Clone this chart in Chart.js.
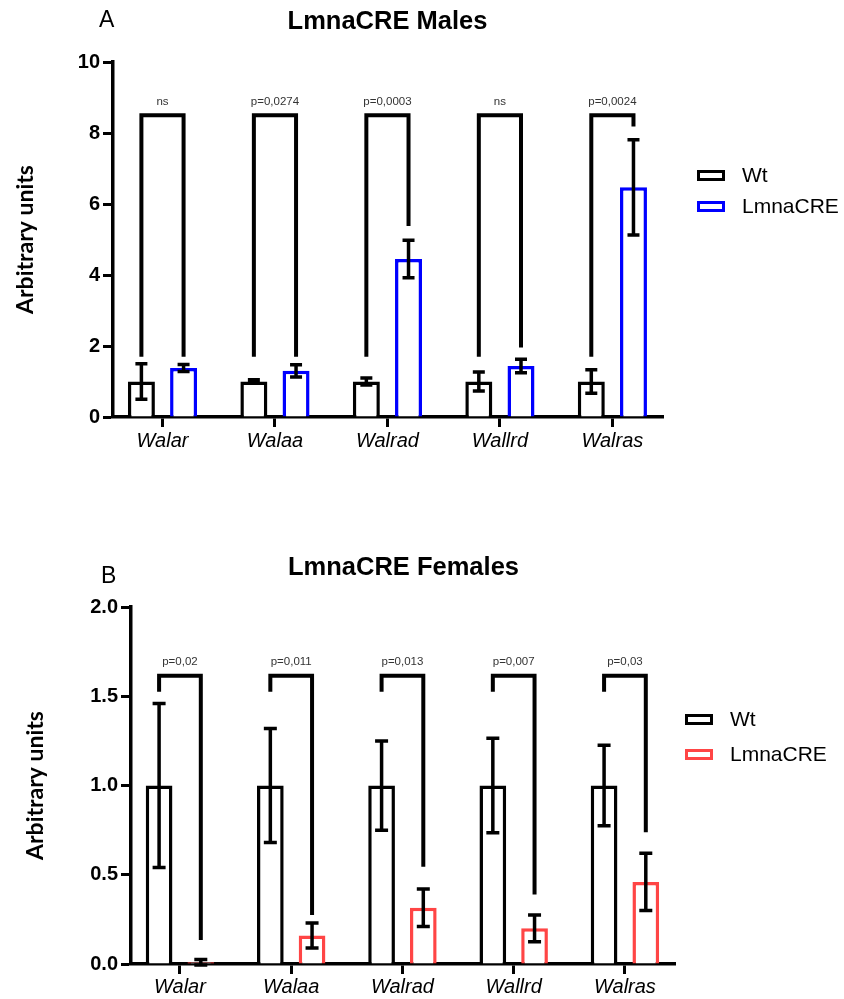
<!DOCTYPE html>
<html><head><meta charset="utf-8">
<script src="https://cdn.jsdelivr.net/npm/chart.js@4/dist/chart.umd.min.js"></script>
<style>
html,body{margin:0;padding:0;background:#fff;}
body{width:844px;height:999px;position:relative;overflow:hidden;font-family:'Liberation Sans',Arial,sans-serif;}
canvas{position:absolute;left:0;}
.t{position:absolute;white-space:nowrap;color:#000;}
.sw{position:absolute;width:28px;height:11px;box-sizing:border-box;border:3.5px solid #000;background:#fff;}
</style></head><body>
<canvas id="c1" width="844" height="480" style="top:0"></canvas>
<canvas id="c2" width="844" height="519" style="top:480px"></canvas>

<div class="t" style="left:99px;top:5px;font-size:23px;line-height:28px;">A</div>
<div class="t" style="left:0;width:775px;text-align:center;top:4.5px;font-size:25.5px;line-height:30px;font-weight:bold;">LmnaCRE Males</div>
<div class="sw" style="left:697px;top:169.5px;border-color:#000;"></div>
<div class="t" style="left:742px;top:162px;font-size:21px;line-height:26px;">Wt</div>
<div class="sw" style="left:697px;top:200.5px;border-color:#0000ff;"></div>
<div class="t" style="left:742px;top:193px;font-size:21px;line-height:26px;">LmnaCRE</div>

<div class="t" style="left:101px;top:560.5px;font-size:23px;line-height:28px;">B</div>
<div class="t" style="left:0;width:807px;text-align:center;top:550.5px;font-size:25.5px;line-height:30px;font-weight:bold;">LmnaCRE Females</div>
<div class="sw" style="left:685px;top:713.5px;border-color:#000;"></div>
<div class="t" style="left:730px;top:706px;font-size:21px;line-height:26px;">Wt</div>
<div class="sw" style="left:685px;top:748.5px;border-color:#ff4545;"></div>
<div class="t" style="left:730px;top:741px;font-size:21px;line-height:26px;">LmnaCRE</div>

<script>
// ---------- data ----------
const categories = ['Walar', 'Walaa', 'Walrad', 'Wallrd', 'Walras'];
const seriesNames = ['Wt', 'LmnaCRE'];

// Panel A – males
const maleWt = [1, 1, 1, 1, 1];
const maleWtErr = [0.5, 0.05, 0.1, 0.27, 0.33];
const maleCre = [1.38, 1.3, 4.45, 1.44, 6.47];
const maleCreErr = [0.1, 0.17, 0.53, 0.19, 1.34];
const maleP = ['ns', 'p=0,0274', 'p=0,0003', 'ns', 'p=0,0024'];
const maleBracketTop = 8.5;
const maleBracketLeft = [1.7, 1.7, 1.7, 1.7, 1.7];
const maleBracketRight = [1.7, 1.7, 5.38, 1.96, 8.18];
const maleYTicks = [0, 2, 4, 6, 8, 10];

// Panel B – females
const femWt = [1, 1, 1, 1, 1];
const femWtErr = [0.46, 0.32, 0.25, 0.265, 0.225];
const femCre = [0.01, 0.16, 0.315, 0.2, 0.46];
const femCreErr = [0.015, 0.07, 0.105, 0.075, 0.16];
const femP = ['p=0,02', 'p=0,011', 'p=0,013', 'p=0,007', 'p=0,03'];
const femBracketTop = 1.615;
const femBracketLeft = [1.525, 1.525, 1.525, 1.525, 1.525];
const femBracketRight = [0.134, 0.275, 0.545, 0.39, 0.738];
const femYTicks = [0, 0.5, 1.0, 1.5, 2.0];

// ---------- plugin: error bars, brackets, p labels ----------
const overlay = {
  id: 'overlay',
  afterDatasetsDraw(chart, args, o) {
    const ctx = chart.ctx, y = chart.scales.y;
    ctx.save();
    ctx.strokeStyle = '#000';
    ctx.lineCap = 'butt';
    ctx.lineJoin = 'miter';
    const m0 = chart.getDatasetMeta(0), m1 = chart.getDatasetMeta(1);
    ctx.lineWidth = o.bracketWidth;
    categories.forEach((c, i) => {
      const xl = m0.data[i].x, xr = m1.data[i].x;
      const yt = y.getPixelForValue(o.bTop);
      ctx.beginPath();
      ctx.moveTo(xl, y.getPixelForValue(o.bLeft[i]));
      ctx.lineTo(xl, yt);
      ctx.lineTo(xr, yt);
      ctx.lineTo(xr, y.getPixelForValue(o.bRight[i]));
      ctx.stroke();
      ctx.fillStyle = '#333';
      ctx.font = o.pFont;
      ctx.textAlign = 'center';
      ctx.textBaseline = 'middle';
      ctx.fillText(o.pLabels[i], (xl + xr) / 2, yt - o.pOffset);
    });
    ctx.lineWidth = o.errWidth;
    o.means.forEach((means, d) => {
      const meta = chart.getDatasetMeta(d);
      meta.data.forEach((el, i) => {
        const m = means[i], e = o.errs[d][i];
        const yt = y.getPixelForValue(m + e), yb = y.getPixelForValue(m - e);
        ctx.beginPath();
        ctx.moveTo(el.x, yt); ctx.lineTo(el.x, yb);
        ctx.moveTo(el.x - o.cap / 2, yt); ctx.lineTo(el.x + o.cap / 2, yt);
        ctx.moveTo(el.x - o.cap / 2, yb); ctx.lineTo(el.x + o.cap / 2, yb);
        ctx.stroke();
      });
    });
    ctx.restore();
  }
};

function makeChart(id, cfg) {
  const toPts = arr => arr.map((v, i) => ({ x: i, y: v }));
  return new Chart(document.getElementById(id), {
    type: 'bar',
    data: {
      datasets: [
        { label: seriesNames[0], data: toPts(cfg.wt), backgroundColor: '#ffffff', borderColor: '#000000', borderWidth: 3.5 },
        { label: seriesNames[1], data: toPts(cfg.cre), backgroundColor: '#ffffff', borderColor: cfg.color, borderWidth: 3.5 }
      ]
    },
    options: {
      responsive: false,
      animation: false,
      devicePixelRatio: 1,
      categoryPercentage: 0.75,
      barPercentage: 0.64,
      layout: { padding: cfg.padding },
      plugins: {
        legend: { display: false },
        title: { display: false },
        tooltip: { enabled: false },
        overlay: {
          means: [cfg.wt, cfg.cre], errs: [cfg.wtErr, cfg.creErr],
          bTop: cfg.bTop, bLeft: cfg.bLeft, bRight: cfg.bRight, pLabels: cfg.pLabels,
          bracketWidth: 4, errWidth: 3.5, cap: cfg.cap,
          pFont: '11.5px "Liberation Sans", Arial, sans-serif', pOffset: 13.5
        }
      },
      scales: {
        x: {
          type: 'linear', min: -0.44, max: 4.45, offset: false,
          afterBuildTicks: s => { s.ticks = categories.map((c, i) => ({ value: i })); },
          afterFit: s => { s.height = cfg.xHeight; },
          border: { display: true, color: '#000', width: 3.5 },
          grid: { offset: false, drawOnChartArea: false, drawTicks: true, tickLength: 10, tickWidth: 3, tickColor: '#000', color: '#000' },
          ticks: {
            autoSkip: false, maxRotation: 0, padding: cfg.xPad, color: '#000',
            font: { family: '"Liberation Sans", Arial, sans-serif', size: 20, style: 'italic' },
            callback: v => categories[v]
          }
        },
        y: {
          min: 0, max: cfg.yMax,
          afterBuildTicks: s => { s.ticks = cfg.yTicks.map(v => ({ value: v })); },
          afterFit: s => { s.width = cfg.yWidth; },
          border: { display: true, color: '#000', width: 3.5 },
          grid: { drawOnChartArea: false, drawTicks: true, tickLength: 10, tickWidth: 3, tickColor: '#000', color: '#000' },
          ticks: {
            padding: 3, color: '#000',
            font: { family: '"Liberation Sans", Arial, sans-serif', size: 20, weight: 'bold' },
            callback: cfg.yFmt
          },
          title: {
            display: true, text: 'Arbitrary units', color: '#000',
            font: { family: 'Lato', size: 23, weight: 'bold' },
            padding: { top: cfg.titlePad, bottom: 0 }
          }
        }
      }
    },
    plugins: [overlay]
  });
}

makeChart('c1', {
  wt: maleWt, wtErr: maleWtErr, cre: maleCre, creErr: maleCreErr, color: '#0000ff',
  bTop: maleBracketTop, bLeft: maleBracketLeft, bRight: maleBracketRight, pLabels: maleP,
  yMax: 10, yTicks: maleYTicks, yFmt: v => String(v),
  padding: { top: 62, right: 181, bottom: 0, left: 0 },
  yWidth: 113, xHeight: 63, xPad: 2, titlePad: 12, cap: 12
});

makeChart('c2', {
  wt: femWt, wtErr: femWtErr, cre: femCre, creErr: femCreErr, color: '#ff4545',
  bTop: femBracketTop, bLeft: femBracketLeft, bRight: femBracketRight, pLabels: femP,
  yMax: 2, yTicks: femYTicks, yFmt: v => v.toFixed(1),
  padding: { top: 127, right: 169, bottom: 0, left: 0 },
  yWidth: 131, xHeight: 35, xPad: 1, titlePad: 22, cap: 13
});
</script>
</body></html>
